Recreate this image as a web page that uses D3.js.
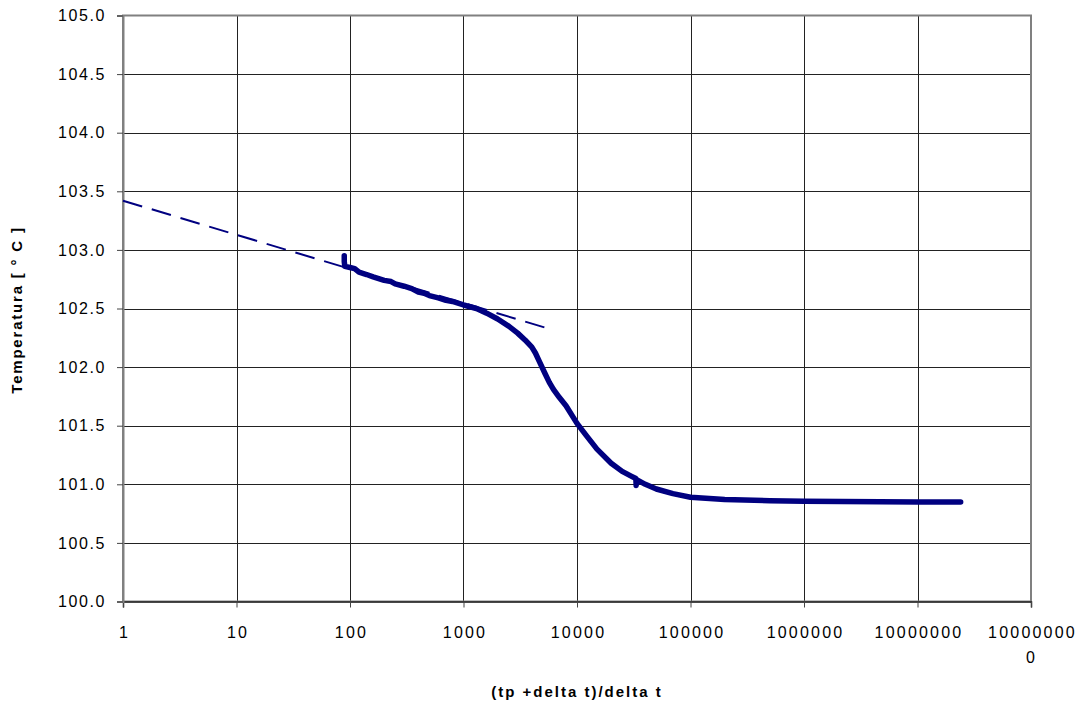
<!DOCTYPE html>
<html>
<head>
<meta charset="utf-8">
<script src="https://cdn.jsdelivr.net/npm/d3@7"></script>
<style>
  body { margin: 0; background: #fff; }
  svg { display: block; font-family: "Liberation Sans", Arial, sans-serif; }
</style>
</head>
<body>
<svg width="1084" height="706"></svg>
<script>
const ratio = [89, 89, 90, 100, 110, 120, 140, 160, 200, 230, 250, 300, 350, 400, 450, 500,
  600, 700, 800, 1000, 1300, 1600, 2000, 2500, 3000, 3500, 4000, 4300, 4700, 5200, 5700,
  6200, 7000, 8000, 10000, 12000, 15000, 20000, 25000, 30000, 33000, 33200, 33500, 40000,
  50000, 70000, 100000, 200000, 500000, 1000000, 10000000, 24000000];
const temp = [102.95, 102.90, 102.86, 102.85, 102.84, 102.81, 102.79, 102.77, 102.74, 102.73,
  102.71, 102.69, 102.67, 102.64, 102.63, 102.61, 102.59, 102.57, 102.56, 102.53, 102.50,
  102.46, 102.41, 102.35, 102.29, 102.23, 102.17, 102.12, 102.04, 101.95, 101.87, 101.81,
  101.74, 101.67, 101.52, 101.42, 101.30, 101.18, 101.11, 101.07, 101.05, 100.99, 101.04,
  101.00, 100.96, 100.92, 100.89, 100.87, 100.86, 100.855, 100.85, 100.85];

// fitted straight line (dashed)
const fitX = [1, 6000];
const fitT = [103.42, 102.32];

const xTicks = [1, 10, 100, 1000, 10000, 100000, 1000000, 10000000, 100000000];
const yTicks = [100.0, 100.5, 101.0, 101.5, 102.0, 102.5, 103.0, 103.5, 104.0, 104.5, 105.0];

const margin = { left: 123, right: 1031, top: 15.5, bottom: 601.5 };
const svg = d3.select('svg');

const x = d3.scaleLog().domain([1, 1e8]).range([margin.left, margin.right]);
const y = d3.scaleLinear().domain([100, 105]).range([margin.bottom, margin.top]);

const grid = svg.append('g');
grid.selectAll('.gx')
  .data(xTicks.slice(1, -1)).enter()
  .append('line')
  .attr('x1', (d) => Math.round(x(d)) + 0.5)
  .attr('x2', (d) => Math.round(x(d)) + 0.5)
  .attr('y1', margin.top)
  .attr('y2', margin.bottom)
  .attr('stroke', '#222')
  .attr('stroke-width', 1);

grid.selectAll('.gy')
  .data(yTicks.slice(1, -1)).enter()
  .append('line')
  .attr('x1', margin.left)
  .attr('x2', margin.right)
  .attr('y1', (d) => Math.round(y(d)) + 0.5)
  .attr('y2', (d) => Math.round(y(d)) + 0.5)
  .attr('stroke', '#222')
  .attr('stroke-width', 1);

// frame
svg.append('rect')
  .attr('x', margin.left)
  .attr('y', margin.top)
  .attr('width', margin.right - margin.left)
  .attr('height', margin.bottom - margin.top)
  .attr('fill', 'none')
  .attr('stroke', '#808080')
  .attr('stroke-width', 2);

// axes
const xAxis = d3.axisBottom(x).tickValues(xTicks).tickSize(6).tickFormat('');
const gx = svg.append('g')
  .attr('transform', `translate(0,${margin.bottom})`)
  .call(xAxis);
gx.select('.domain').attr('stroke', '#222').attr('stroke-width', 1.5);
gx.selectAll('.tick line').attr('stroke', '#444');

gx.selectAll('.tick')
  .append('text')
  .attr('fill', '#000')
  .attr('text-anchor', 'middle')
  .attr('font-size', 16)
  .attr('letter-spacing', 2.2)
  .attr('dx', 1)
  .each(function (d) {
    const s = String(d);
    const lines = s.length > 8 ? [s.slice(0, 8), s.slice(8)] : [s];
    d3.select(this).selectAll('tspan')
      .data(lines).enter()
      .append('tspan')
      .attr('x', 0)
      .attr('y', (l, i) => 36 + i * 25)
      .text((l) => l);
  });

const yAxis = d3.axisLeft(y).tickValues(yTicks).tickSize(6).tickFormat(d3.format('.1f'));
const gy = svg.append('g')
  .attr('transform', `translate(${margin.left},0)`)
  .call(yAxis);
gy.select('.domain').attr('stroke', '#808080').attr('stroke-width', 2);
gy.selectAll('.tick line').attr('stroke', '#444');
gy.selectAll('.tick text')
  .attr('x', -17)
  .attr('font-size', 16)
  .attr('letter-spacing', 1.6)
  .attr('fill', '#000');

// fitted dashed line
const fitLine = d3.line().x((d) => x(d[0])).y((d) => y(d[1]));
svg.append('path')
  .datum(d3.zip(fitX, fitT))
  .attr('d', fitLine)
  .attr('fill', 'none')
  .attr('stroke', '#000080')
  .attr('stroke-width', 2)
  .attr('stroke-dasharray', '20 10');

// measured curve
svg.append('path')
  .datum(d3.zip(ratio, temp))
  .attr('d', d3.line().x((d) => x(d[0])).y((d) => y(d[1])))
  .attr('fill', 'none')
  .attr('stroke', '#000080')
  .attr('stroke-width', 5.5)
  .attr('stroke-linejoin', 'round')
  .attr('stroke-linecap', 'round');

// axis titles
svg.append('text')
  .attr('x', 577)
  .attr('y', 697)
  .attr('text-anchor', 'middle')
  .attr('font-size', 15)
  .attr('font-weight', 'bold')
  .attr('letter-spacing', 2)
  .text('(tp +delta t)/delta t');

svg.append('text')
  .attr('transform', 'translate(22,310) rotate(-90)')
  .attr('text-anchor', 'middle')
  .attr('font-size', 15)
  .attr('font-weight', 'bold')
  .attr('letter-spacing', 1.8)
  .text('Temperatura [ ° C ]');
</script>
</body>
</html>
